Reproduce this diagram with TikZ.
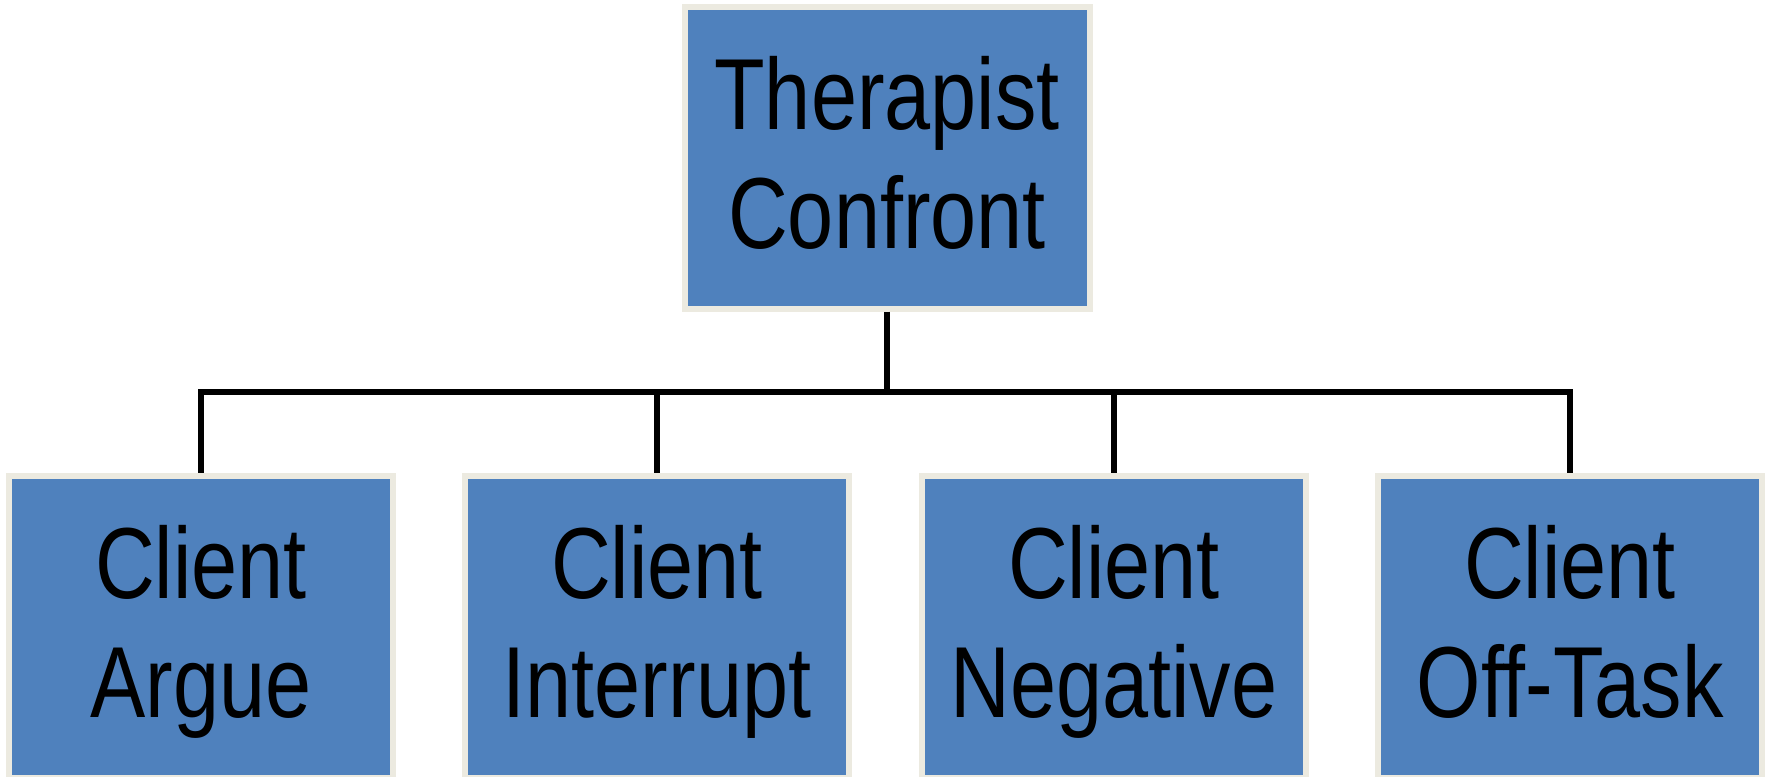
\documentclass[tikz,border=0pt]{standalone}
\usepackage{fontspec}
\setmainfont[FakeStretch=0.82]{Liberation Sans}
\definecolor{boxblue}{HTML}{4F81BD}
\definecolor{boxrim}{HTML}{ECEAE0}
\begin{document}
\begin{tikzpicture}[x=0.5pt,y=-0.5pt,
  catbox/.style={rectangle, draw=boxrim, fill=boxblue, line width=3pt,
    inner sep=0pt, minimum height=151pt},
  topbox/.style={catbox, minimum width=202.5pt},
  subbox/.style={catbox, minimum width=192pt},
  boxtext/.style={anchor=base, align=center, inner sep=0pt,
    font=\fontsize{50.5}{59.5}\selectfont},
  link/.style={draw=black, line width=3.1pt}]
\useasboundingbox (0,0) rectangle (1765,776);
\begin{scope}
\clip (0,0) rectangle (1765,776);
% parent category
\node[topbox] (top) at (887,157.5) {};
\node[boxtext] (toptext) at (887,248) {Therapist\\Confront};
% child categories
\node[subbox] (c1) at (201,626.5) {};
\node[subbox] (c2) at (657,626.5) {};
\node[subbox] (c3) at (1114,626.5) {};
\node[subbox] (c4) at (1570,626.5) {};
\node[boxtext] (c1text) at (201,717) {Client\\Argue};
\node[boxtext] (c2text) at (657,717) {Client\\Interrupt};
\node[boxtext] (c3text) at (1114,717) {Client\\Negative};
\node[boxtext] (c4text) at (1570,717) {Client\\Off-Task};
\end{scope}
% tree connectors
\coordinate (bus) at (887,392);
\draw[link] (top.south) -- (bus);
\draw[link] (c1.north) -- (c1.north |- bus) -- (c4.north |- bus) -- (c4.north);
\draw[link] (c2.north) -- (c2.north |- bus);
\draw[link] (c3.north) -- (c3.north |- bus);
\end{tikzpicture}
\end{document}
